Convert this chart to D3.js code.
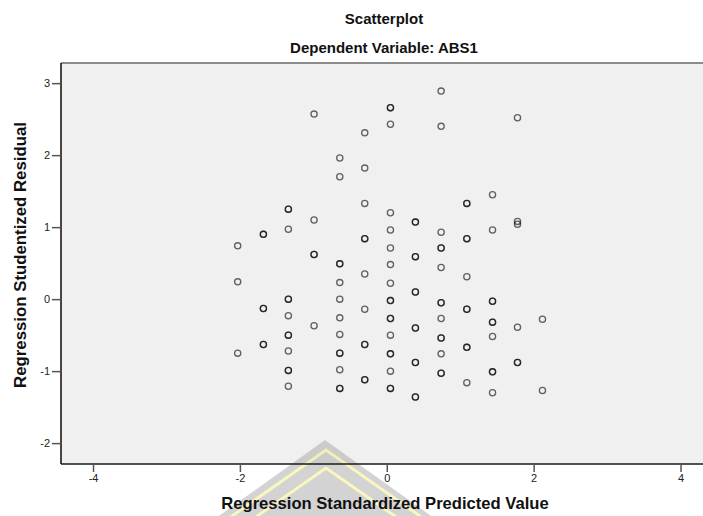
<!DOCTYPE html>
<html>
<head>
<meta charset="utf-8">
<script src="https://cdn.jsdelivr.net/npm/d3@7"></script>
<style>
  body { margin: 0; background: #fff; }
  svg { display: block; font-family: "Liberation Sans", Arial, sans-serif; }
</style>
</head>
<body>
<svg id="chart" width="703" height="516"></svg>
<script>
// predicted values come in discrete levels; residuals listed per level
// (repeated values = overlapping cases, they show up as darker rings)
var predictedLevels = [-2.03, -1.68, -1.34, -0.99, -0.64, -0.30, 0.05, 0.39, 0.74, 1.09, 1.44, 1.78, 2.12];
var residualsByLevel = [
  [0.74, 0.24, -0.75],
  [0.90, 0.90, -0.13, -0.13, -0.63, -0.63],
  [1.25, 1.25, 0.97, 0.00, 0.00, -0.23, -0.50, -0.50, -0.72, -0.99, -0.99, -1.21],
  [2.57, 1.10, 0.62, 0.62, -0.37],
  [1.96, 1.70, 0.49, 0.49, 0.23, 0.00, -0.26, -0.49, -0.75, -0.75, -0.98, -1.24, -1.24],
  [2.31, 1.82, 1.33, 0.84, 0.84, 0.35, -0.14, -0.63, -0.63, -1.12, -1.12],
  [2.66, 2.66, 2.43, 1.20, 0.96, 0.71, 0.48, 0.22, -0.02, -0.02, -0.27, -0.27, -0.50, -0.76, -0.76, -1.00, -1.24, -1.24],
  [1.07, 1.07, 0.59, 0.59, 0.10, 0.10, -0.40, -0.40, -0.88, -0.88, -1.36, -1.36],
  [2.89, 2.40, 0.93, 0.71, 0.71, 0.44, -0.05, -0.05, -0.27, -0.54, -0.54, -0.76, -1.03, -1.03],
  [1.33, 1.33, 0.84, 0.84, 0.31, -0.14, -0.14, -0.67, -0.67, -1.16],
  [1.45, 0.96, -0.03, -0.03, -0.32, -0.32, -0.52, -1.01, -1.01, -1.30],
  [2.52, 1.08, 1.04, -0.39, -0.88, -0.88],
  [-0.28, -1.27]
];
var xTicks = [-4, -2, 0, 2, 4];
var yTicks = [-2, -1, 0, 1, 2, 3];

var titleText = "Scatterplot";
var subtitleText = "Dependent Variable: ABS1";
var xLabel = "Regression Standardized Predicted Value";
var yLabel = "Regression Studentized Residual";

var svg = d3.select("#chart");
var plot = {left: 61, top: 63, right: 703, bottom: 464};

var x = d3.scaleLinear().domain([-4.436, 4.306]).range([plot.left, plot.right]);
var y = d3.scaleLinear().domain([-2.29, 3.28]).range([plot.bottom, plot.top]);

// flatten into points
var points = [];
predictedLevels.forEach(function(p, i) {
  residualsByLevel[i].forEach(function(r) { points.push({x: p, y: r}); });
});

// plot background
svg.append("rect")
  .attr("x", plot.left).attr("y", plot.top)
  .attr("width", plot.right - plot.left + 10)
  .attr("height", plot.bottom - plot.top)
  .attr("fill", "#f0f0f0");

// watermark logo behind the x axis title
var wm = svg.append("g").attr("opacity", 0.5);
wm.append("path")
  .attr("d", "M325,440 L205,526 L445,526 Z")
  .attr("fill", "#a8a8a8");
wm.append("path")
  .attr("d", "M218,526 L326,450 L434,526")
  .attr("fill", "none").attr("stroke", "#f4ee80").attr("stroke-width", 3);
wm.append("path")
  .attr("d", "M243,526 L326,468 L409,526")
  .attr("fill", "none").attr("stroke", "#f4ee80").attr("stroke-width", 3);

// frame
svg.append("line")
  .attr("x1", plot.left).attr("x2", plot.right + 10)
  .attr("y1", plot.top).attr("y2", plot.top)
  .attr("stroke", "#8c8c8c").attr("stroke-width", 2);

// axes
var xAxis = svg.append("g")
  .attr("transform", "translate(0," + plot.bottom + ")")
  .call(d3.axisBottom(x).tickValues(xTicks).tickSize(8).tickPadding(2).tickFormat(d3.format("d")));
var yAxis = svg.append("g")
  .attr("transform", "translate(" + plot.left + ",0)")
  .call(d3.axisLeft(y).tickValues(yTicks).tickSize(9).tickPadding(2).tickFormat(d3.format("d")));

[xAxis, yAxis].forEach(function(a) {
  a.select(".domain").attr("stroke", "#1a1a1a").attr("stroke-width", 1.6);
  a.selectAll(".tick line").attr("stroke", "#555").attr("stroke-width", 1.5);
  a.selectAll(".tick text")
    .attr("fill", "#222")
    .style("font-size", "11px")
    .style("font-family", "'Liberation Sans', Arial, sans-serif");
});
// minus sign as plain hyphen like the original
svg.selectAll(".tick text").text(function(d) { return String(d); });
xAxis.select(".domain").attr("d", "M" + plot.left + ",0H" + (plot.right + 10));
yAxis.select(".domain").attr("d", "M0," + plot.top + "V" + plot.bottom);

// points
svg.append("g")
  .selectAll("circle")
  .data(points)
  .enter()
  .append("circle")
  .attr("cx", function(d) { return x(d.x); })
  .attr("cy", function(d) { return y(d.y); })
  .attr("r", 3.1)
  .attr("fill", "none")
  .attr("stroke", "#000")
  .attr("stroke-opacity", 0.6)
  .attr("stroke-width", 1.3);

// titles
var cx = 384;
svg.append("text").attr("x", cx).attr("y", 24)
  .attr("text-anchor", "middle").attr("font-weight", "bold").attr("font-size", 15)
  .attr("fill", "#111").text(titleText);
svg.append("text").attr("x", cx).attr("y", 53)
  .attr("text-anchor", "middle").attr("font-weight", "bold").attr("font-size", 15)
  .attr("fill", "#111").text(subtitleText);
svg.append("text").attr("x", cx + 1).attr("y", 509)
  .attr("text-anchor", "middle").attr("font-weight", "bold").attr("font-size", 16.6)
  .attr("fill", "#111").text(xLabel);
svg.append("text")
  .attr("transform", "translate(26," + 255 + ") rotate(-90)")
  .attr("text-anchor", "middle").attr("font-weight", "bold").attr("font-size", 16.8)
  .attr("fill", "#111").text(yLabel);
</script>
</body>
</html>
